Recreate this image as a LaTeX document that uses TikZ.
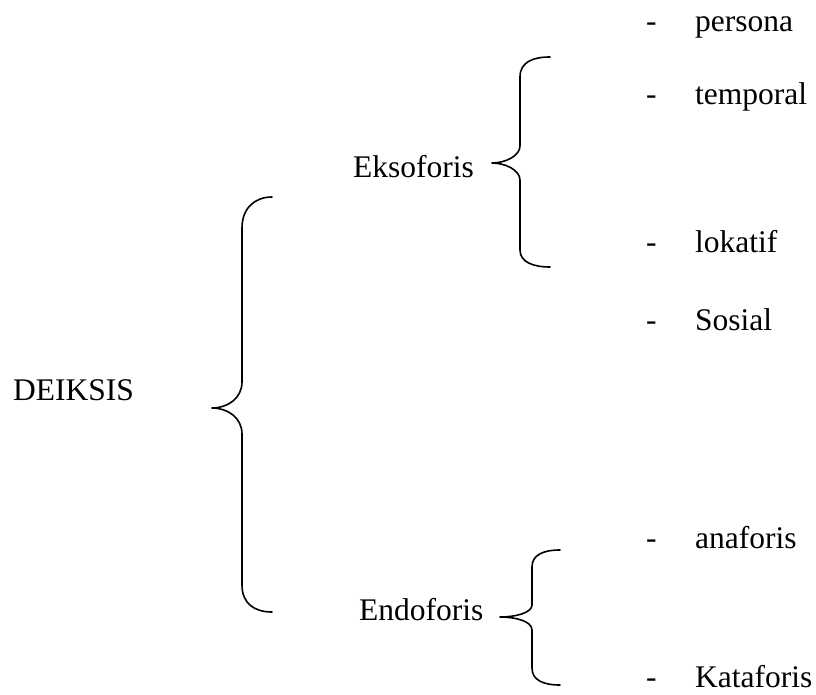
\documentclass[tikz,border=0pt]{standalone}
\usepackage{fontspec}
\setmainfont{Liberation Serif}
\begin{document}
\begin{tikzpicture}[x=1pt,y=-1pt,
  lbl/.style={anchor=base west,inner sep=0pt,font=\fontsize{31.5}{36}\selectfont},
  brace/.style={line width=1.6pt,line cap=round,line join=round}]
\useasboundingbox (0,0) rectangle (816,695);
% labels
\node[lbl] (deiksis) at (13,400) {DEIKSIS};
\node[lbl] (ekso) at (353,178) {Eksoforis};
\node[lbl] (endo) at (359,620) {Endoforis};
\node[lbl] (d1) at (646,32) {-};
\node[lbl] (persona) at (695,32) {persona};
\node[lbl] (d2) at (646,105) {-};
\node[lbl] (temporal) at (695,105) {temporal};
\node[lbl] (d3) at (646,252) {-};
\node[lbl] (lokatif) at (695,252) {lokatif};
\node[lbl] (d4) at (646,330) {-};
\node[lbl] (sosial) at (695,330) {Sosial};
\node[lbl] (d5) at (646,548) {-};
\node[lbl] (anaforis) at (695,548) {anaforis};
\node[lbl] (d6) at (646,687) {-};
\node[lbl] (kataforis) at (695,687) {Kataforis};
% big brace
\draw[brace] (272,197) .. controls (255,197) and (242,208) .. (242,228) -- (242,382)
  .. controls (242,398) and (228,408) .. (212,408)
  .. controls (228,408) and (242,418) .. (242,434) -- (242,585)
  .. controls (242,604) and (255,612) .. (272,612);
% Eksoforis brace
\draw[brace] (550,57) .. controls (533,57) and (520,62) .. (520,77) -- (520,146)
  .. controls (520,156) and (505,163) .. (492,163)
  .. controls (505,163) and (520,170) .. (520,180) -- (520,250)
  .. controls (520,262) and (533,267) .. (550,267);
% Endoforis brace
\draw[brace] (560,550) .. controls (543,550) and (532,555) .. (532,567) -- (532,605)
  .. controls (532,613) and (515,617) .. (500,617)
  .. controls (515,617) and (532,621) .. (532,630) -- (532,668)
  .. controls (532,680) and (543,685) .. (560,685);
\end{tikzpicture}
\end{document}
